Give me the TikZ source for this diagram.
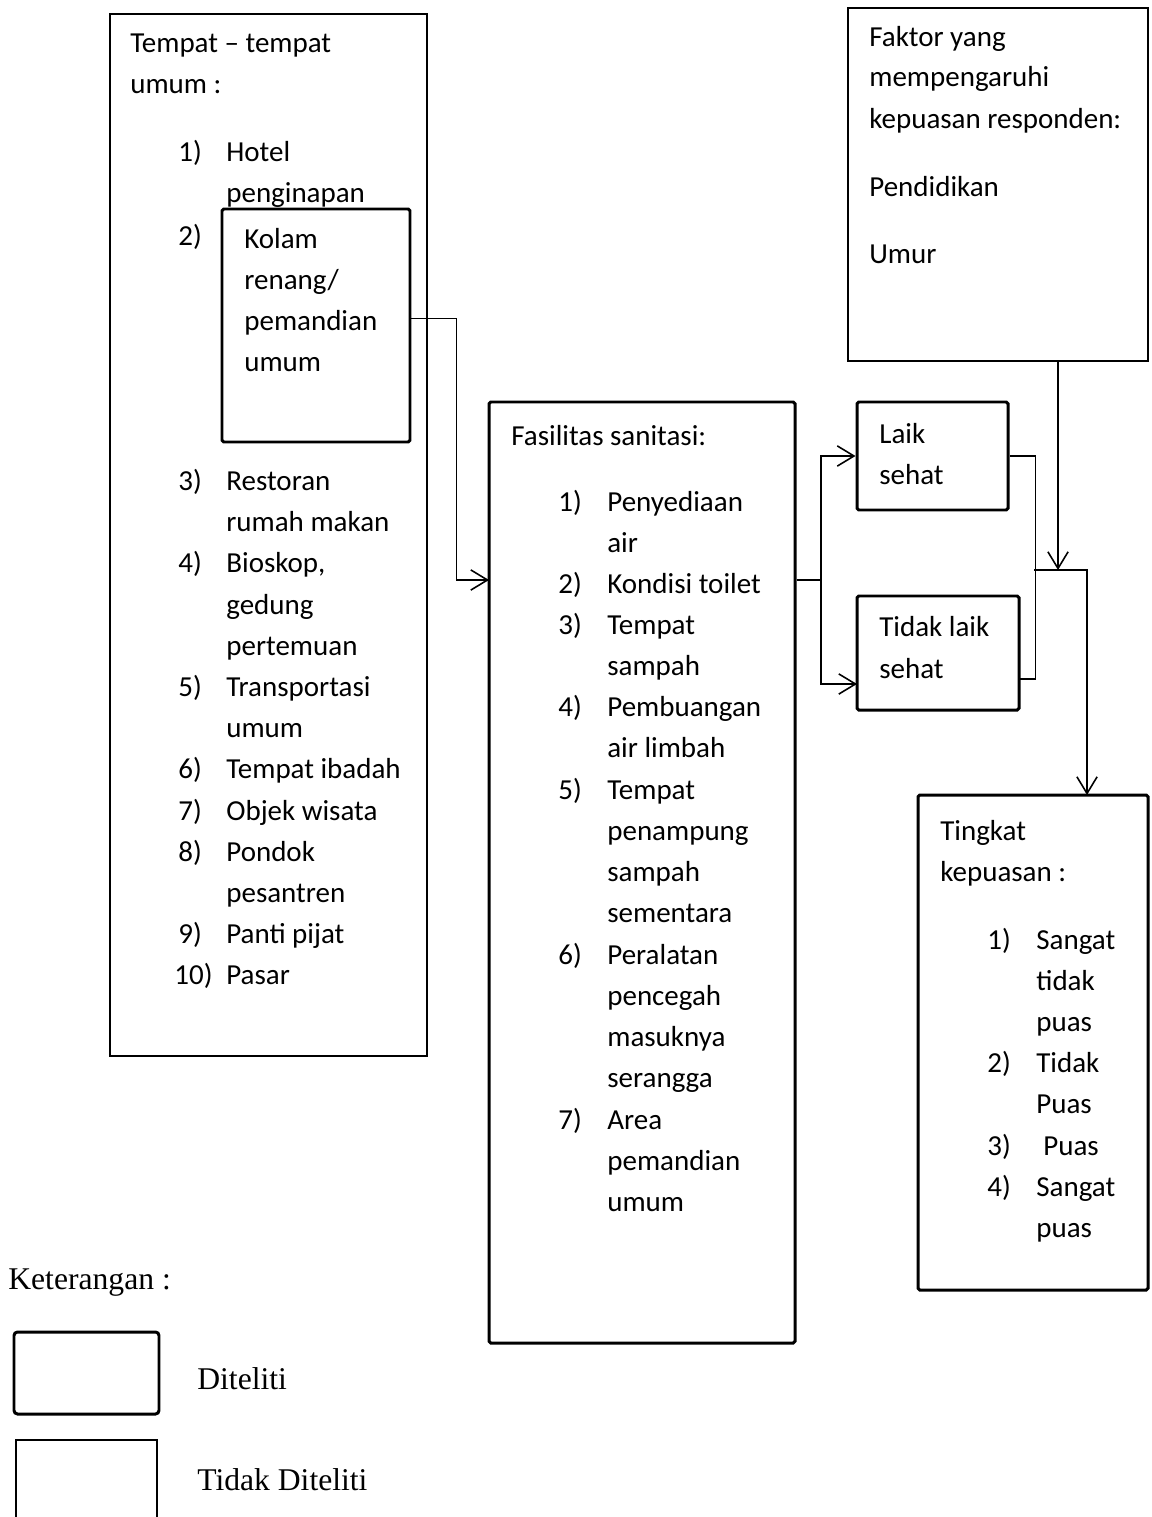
\documentclass[tikz,border=0pt]{standalone}
\usepackage{fontspec}
\setmainfont{Carlito}
\newfontfamily\timesfont{Liberation Serif}
\usetikzlibrary{arrows.meta, fit}

\begin{document}
\begin{tikzpicture}[x=0.02cm, y=-0.02cm,
    font=\fontsize{16.5}{20}\selectfont,
    >={Straight Barb[length=9.5pt,width=11.5pt]},
    thinbox/.style={draw, line width=0.8pt, inner sep=0pt},
    thickbox/.style={draw, line width=1.7pt, inner sep=0pt, rounded corners=1pt},
    txt/.style={anchor=base west, inner sep=0pt},
    link/.style={line width=0.9pt}]
  \useasboundingbox (0,0) rectangle (1152,1517);

  % boxes
  \node[thinbox, fit={(110,14) (427,1056)}] (tempat) {};
  \node[thickbox, fit={(222,209) (410,442)}] (kolam) {};
  \node[thickbox, fit={(489,402) (795,1343)}] (fasilitas) {};
  \node[thickbox, fit={(857,402) (1008,510)}] (laik) {};
  \node[thickbox, fit={(857,596) (1019,710)}] (tidaklaik) {};
  \node[thinbox, fit={(848,8) (1148,361)}] (faktor) {};
  \node[thickbox, fit={(918,795) (1148,1290)}] (tingkat) {};

  % tempat-tempat umum
  \node[txt] (tempat-t1) at (130,53) {Tempat – tempat};
  \node[txt] (tempat-t2) at (130,94) {umum :};
  \foreach \y/\n in {162/1), 245/2), 490/3), 572/4), 696/5), 778/6), 820/7), 861/8), 943/9)}
    \node[txt] (tempat-n\y) at (178,\y) {\n};
  \node[txt] (tempat-n984) at (174,984) {10)};
  \foreach \y/\t in {162/Hotel, 203/penginapan, 490/Restoran, 531/rumah makan,
      572/{Bioskop,}, 614/gedung, 655/pertemuan, 696/Transportasi, 737/umum,
      778/Tempat ibadah, 820/Objek wisata, 861/Pondok, 902/pesantren,
      943/Panti pijat, 984/Pasar}
    \node[txt] (tempat-i\y) at (226,\y) {\t};
  \foreach \y/\t in {248/Kolam, 289/{renang/}, 330/pemandian, 371/umum}
    \node[txt] (kolam-i\y) at (244,\y) {\t};

  % fasilitas sanitasi
  \node[txt] (fas-t) at (511,445) {Fasilitas sanitasi:};
  \foreach \y/\n in {511/1), 593/2), 634/3), 716/4), 799/5), 964/6), 1129/7)}
    \node[txt] (fas-n\y) at (558,\y) {\n};
  \foreach \y/\t in {511/Penyediaan, 552/air, 593/Kondisi toilet, 634/Tempat,
      675/sampah, 716/Pembuangan, 757/air limbah, 799/Tempat, 840/penampung,
      881/sampah, 922/sementara, 964/Peralatan, 1005/pencegah, 1046/masuknya,
      1087/serangga, 1129/Area, 1170/pemandian, 1211/umum}
    \node[txt] (fas-i\y) at (607,\y) {\t};

  % laik / tidak laik
  \node[txt] (laik-t1) at (879,443) {Laik};
  \node[txt] (laik-t2) at (879,484) {sehat};
  \node[txt] (tlaik-t1) at (879,636) {Tidak laik};
  \node[txt] (tlaik-t2) at (879,678) {sehat};

  % faktor
  \foreach \y/\t in {47/Faktor yang, 87/mempengaruhi, 129/kepuasan responden:,
      196/Pendidikan, 263/Umur}
    \node[txt] (faktor-i\y) at (869,\y) {\t};

  % tingkat kepuasan
  \node[txt] (tk-t1) at (940,840) {Tingkat};
  \node[txt] (tk-t2) at (940,881) {kepuasan :};
  \foreach \y/\n in {949/1), 1072/2), 1155/3), 1196/4)}
    \node[txt] (tk-n\y) at (987,\y) {\n};
  \foreach \y/\t in {949/Sangat, 990/tidak, 1031/puas, 1072/Tidak, 1113/Puas,
      1196/Sangat, 1237/puas}
    \node[txt] (tk-i\y) at (1036,\y) {\t};
  \node[txt] (tk-i1155) at (1043,1155) {Puas};

  % connectors
  \coordinate (fasin) at (489,580);
  \coordinate (split) at (821,580);
  \coordinate (tlaikin) at (857,684);
  \coordinate (tlaikout) at (1019,679);
  \coordinate (merge) at (1034,570);
  \coordinate (tkin) at (1087,795);
  \coordinate (fkout) at (1058,361);
  \coordinate (fkin) at (1058,570);
  \draw[link,->] ([yshift=0.14cm]kolam.east) -- ++(45,0) |- (fasin);
  \draw[link,->] (fasilitas.east |- split) -- (split) |- (laik.west);
  \draw[link,->] (split) |- (tlaikin);
  \draw[link] (laik.east) -- ++(26,0) |- (tlaikout);
  \draw[link,->] (merge) -| (tkin);
  \draw[link,->] (fkout) -- (fkin);

  % keterangan
  \node[txt, font=\timesfont\fontsize{18}{22}\selectfont] (ket) at (8,1289) {Keterangan :};
  \node[thickbox, rounded corners=2pt, fit={(14,1332) (159,1414)}] (legdit) {};
  \node[thinbox, fit={(16,1440) (157,1530)}] (legtdk) {};
  \node[txt, font=\timesfont\fontsize{18}{22}\selectfont] (legdit-t) at (197,1389) {Diteliti};
  \node[txt, font=\timesfont\fontsize{18}{22}\selectfont] (legtdk-t) at (197,1490) {Tidak Diteliti};
\end{tikzpicture}
\end{document}
